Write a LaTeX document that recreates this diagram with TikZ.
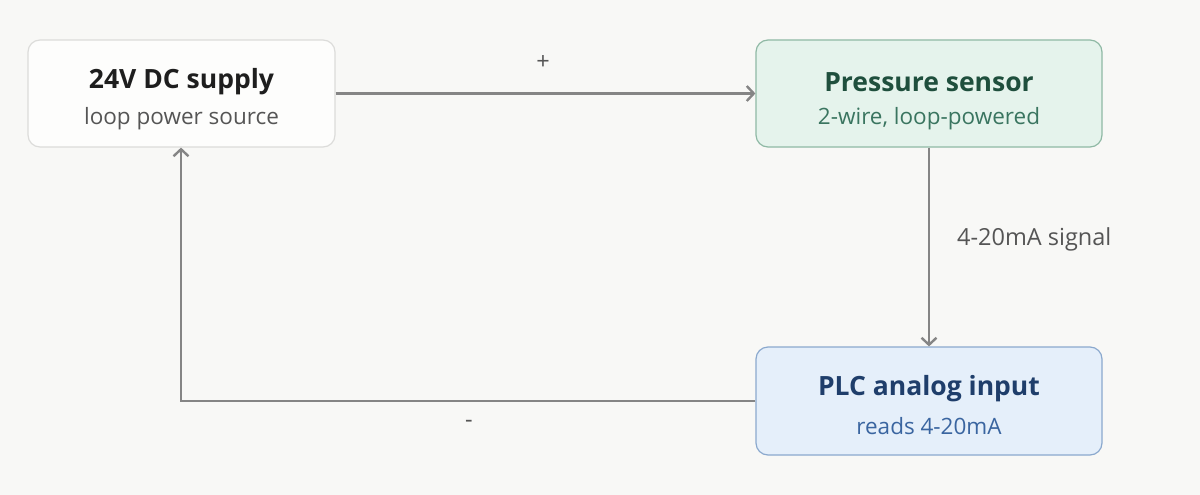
\documentclass[tikz,border=0pt]{standalone}
\usepackage{fontspec}
\setmainfont{Open Sans}
\usetikzlibrary{arrows.meta,positioning}
\definecolor{bgc}{HTML}{F8F8F6}
\definecolor{linec}{HTML}{858585}
\definecolor{aFill}{HTML}{FDFDFC}
\definecolor{aDraw}{HTML}{DCDCDA}
\definecolor{aTitle}{HTML}{1E1E1E}
\definecolor{aSub}{HTML}{555555}
\definecolor{bFill}{HTML}{E5F3EC}
\definecolor{bDraw}{HTML}{8FB9A5}
\definecolor{bTitle}{HTML}{1F4F3D}
\definecolor{bSub}{HTML}{3A7560}
\definecolor{cFill}{HTML}{E5EFFA}
\definecolor{cDraw}{HTML}{8BA9CE}
\definecolor{cTitle}{HTML}{1F3E6B}
\definecolor{cSub}{HTML}{3A65A0}
\tikzset{
  box/.style={rounded corners=12pt, line width=1.2pt, inner sep=0pt, minimum height=107pt},
  titletext/.style={font=\fontsize{26.5}{30}\selectfont\bfseries, inner sep=0pt},
  subtext/.style={font=\fontsize{22.5}{26}\selectfont, inner sep=0pt},
  wire/.style={draw=linec, line width=2.4pt},
  arr/.style={wire, -{Straight Barb[length=7pt,width=15pt,line width=2.4pt]}},
  lbl/.style={font=\fontsize{23.5}{27}\selectfont, text=aSub, inner sep=0pt}
}
\begin{document}
\begin{tikzpicture}[x=1pt,y=-1pt]
\fill[bgc] (0,0) rectangle (1200,495);
\useasboundingbox (0,0) rectangle (1200,495);
\node[box, fill=aFill, draw=aDraw, minimum width=307pt] (supply) at (181.5,93.5) {};
\node[box, fill=bFill, draw=bDraw, minimum width=346pt] (sensor) at (929,93.5) {};
\node[box, fill=cFill, draw=cDraw, minimum width=346pt, minimum height=108pt] (plc) at (929,401) {};
\node[titletext, text=aTitle] (supplyT) at (181.5,82) {24V DC supply};
\node[subtext, text=aSub] (supplyS) at (181.5,119) {loop power source};
\node[titletext, text=bTitle] (sensorT) at (929,82) {Pressure sensor};
\node[subtext, text=bSub] (sensorS) at (929,119) {2-wire, loop-powered};
\node[titletext, text=cTitle] (plcT) at (929,389) {PLC analog input};
\node[subtext, text=cSub] (plcS) at (929,426) {reads 4-20mA};
\coordinate (corner) at (181,401);
\draw[arr] (supply.east) -- (sensor.west);
\draw[arr] (sensor.south) -- (plc.north);
\draw[arr] (plc.west) -- (corner) -- (supply.south -| corner);
\node[lbl, anchor=west] (sig) at (957,239) {4-20mA signal};
\node[lbl] (plus) at (543,63) {+};
\node[lbl] (minus) at (469,424) {-};
\end{tikzpicture}
\end{document}
